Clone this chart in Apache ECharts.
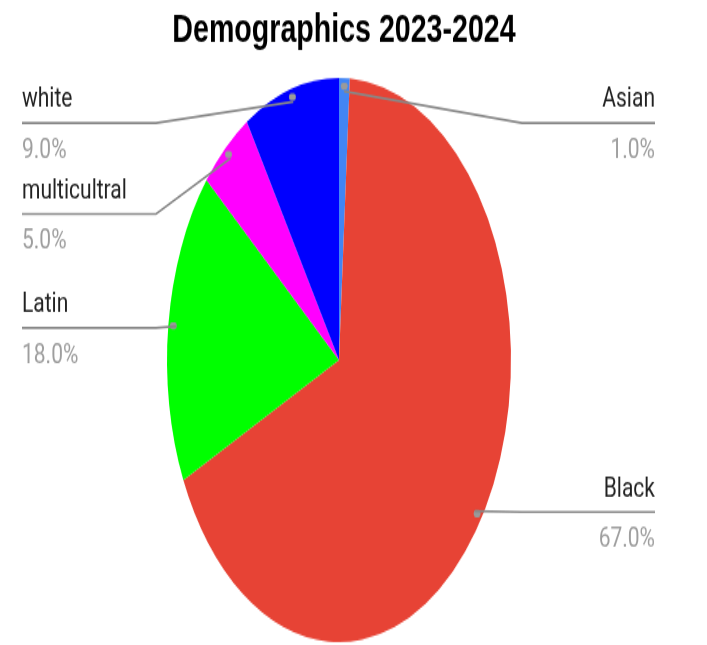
<!DOCTYPE html>
<html><head><meta charset="utf-8">
<script src="https://cdn.jsdelivr.net/npm/echarts@6/dist/echarts.min.js"></script>
<style>
html,body{margin:0;padding:0;background:#fff;overflow:hidden;}
#wrap{position:relative;width:707px;height:645px;overflow:hidden;}
#pie{position:absolute;left:0;top:0;width:707px;height:645px;transform:scaleY(1.64);transform-origin:0 360px;}
#txt{position:absolute;left:0;top:0;width:707px;height:478px;transform:scaleY(1.35);transform-origin:0 0;pointer-events:none;}
</style></head><body><div id="wrap"><div id="pie"></div><div id="txt"></div></div>
<script>
const titleText = 'Demographics 2023-2024';
const categories = ['Asian', 'Black', 'Latin', 'multicultral', 'white'];
const values = [1, 67, 18, 5, 9];
const colors = ['#4285f4', '#e74335', '#00ff00', '#ff00ff', '#0000ff'];

// layout (screen px)
const SY = 1.64, TY = 1.35;
const CX = 339, CY = 360, R = 172, RDOT = 164;
const lineYScreen = [123, 512, 328, 214, 123];

const total = values.reduce((a, b) => a + b, 0);
let acc = 0;
const side = values.map(v => { const mid = (acc + v / 2) / total; acc += v; return mid < 0.5 ? 'R' : 'L'; });
const midFrac = (() => { let a = 0; return values.map(v => { const m = (a + v / 2) / total; a += v; return m; }); })();

const pieData = categories.map((n, i) => ({ name: n, value: values[i], itemStyle: { color: colors[i] } }));
const plainData = categories.map((n, i) => ({ name: n, value: values[i] }));

const pieChart = echarts.init(document.getElementById('pie'), null, { renderer: 'canvas' });
pieChart.setOption({
  animation: false,
  series: [
    { type: 'pie', center: [CX, CY], radius: R, startAngle: 90, clockwise: true, silent: true,
      label: { show: false }, labelLine: { show: false }, itemStyle: { borderWidth: 0 }, emphasis: { disabled: true },
      data: pieData },
    { type: 'pie', center: [CX, CY], radius: [RDOT - 8, RDOT + 8], startAngle: 90, clockwise: true, silent: true,
      itemStyle: { color: 'rgba(0,0,0,0)', borderWidth: 0 }, emphasis: { disabled: true },
      label: { show: true, position: 'inside', formatter: '{d|}',
        rich: { d: { width: 7, height: 7 / SY, borderRadius: 3.5, backgroundColor: '#9a9a9a' } } },
      labelLine: { show: false },
      data: plainData }
  ]
});

const txtChart = echarts.init(document.getElementById('txt'), null, { renderer: 'canvas' });
const nameStyle = { fontFamily: 'Roboto', fontSize: 21, color: '#222222', lineHeight: 34 };
const pctStyle = { fontFamily: 'Roboto', fontSize: 21, color: '#9e9e9e', lineHeight: 41 };
txtChart.setOption({
  animation: false,
  title: { text: titleText, left: CX, textAlign: 'center', top: 4,
    textStyle: { fontFamily: 'Liberation Sans', fontWeight: 'bold', fontSize: 28.6, color: '#000000' } },
  series: [{
    type: 'pie', center: [CX, CY / TY], radius: R, startAngle: 90, clockwise: true, silent: true,
    avoidLabelOverlap: false, emphasis: { disabled: true },
    itemStyle: { color: 'rgba(0,0,0,0)', borderWidth: 0 },
    label: {
      show: true, position: 'outside',
      formatter: p => {
        const s = side[p.dataIndex];
        return '{n' + s + '|' + p.name + '}\n{p' + s + '|' + p.percent.toFixed(1) + '%}';
      },
      rich: {
        nL: Object.assign({ align: 'left' }, nameStyle),
        pL: Object.assign({ align: 'left' }, pctStyle),
        nR: Object.assign({ align: 'right' }, nameStyle),
        pR: Object.assign({ align: 'right' }, pctStyle)
      }
    },
    labelLine: { show: true, length: 10, length2: 10, smooth: false, lineStyle: { color: '#888888', width: 1.7 } },
    labelLayout: function (p) {
      const i = p.dataIndex;
      let dx, dy;
      const pts = p.labelLinePoints;
      if (pts && pts[0]) {
        dx = pts[0][0] - CX; dy = pts[0][1] - CY / TY;
        const L = Math.hypot(dx, dy); dx /= L; dy /= L;
      } else {
        const a = midFrac[i] * 2 * Math.PI; dx = Math.sin(a); dy = -Math.cos(a);
      }
      const dot = [CX + dx * RDOT, (CY + dy * RDOT * SY) / TY];
      const ly = lineYScreen[i] / TY;
      const right = side[i] === 'R';
      const edge = right ? 655 : 22, bend = right ? 522 : 156;
      return { x: edge, y: ly - 34, align: right ? 'right' : 'left', verticalAlign: 'top',
        labelLinePoints: [dot, [bend, ly], [edge, ly]] };
    },
    data: plainData
  }]
});
</script></body></html>
